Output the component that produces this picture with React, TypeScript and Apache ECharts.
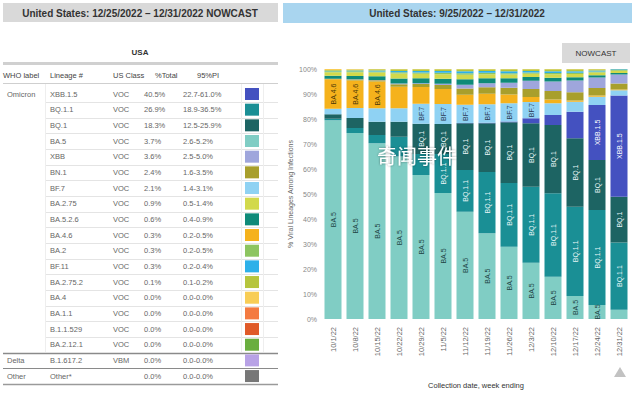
import React, { useEffect, useRef } from "react";
import * as echarts from "echarts";

// ---------- chart data (week ending) ----------
const weeks = ["10/1/22", "10/8/22", "10/15/22", "10/22/22", "10/29/22", "11/5/22", "11/12/22", "11/19/22", "11/26/22", "12/3/22", "12/10/22", "12/17/22", "12/24/22", "12/31/22"];

// stacked from bottom to top
const ba5 = [79.5, 74.4, 70.3, 65.0, 57.6, 50.4, 42.9, 34.3, 28.9, 22.5, 16.9, 9.2, 5.6, 3.7];
const bq11 = [0.6, 2.0, 3.3, 7.9, 8.4, 15.6, 16.7, 24.5, 25.5, 30.4, 33.4, 35.7, 38.0, 26.9];
const bq1 = [1.8, 4.0, 5.3, 6.0, 12.1, 12.0, 18.7, 19.5, 24.3, 25.4, 27.3, 27.4, 20.0, 18.3];
const xbb15 = [0, 0, 0, 0, 0, 0, 0.1, 0.2, 0.3, 2.0, 4.0, 10.6, 22.0, 40.5];
const bf7 = [2.2, 4.0, 5.4, 5.4, 8.0, 8.0, 7.3, 7.4, 7.3, 6.5, 4.7, 4.0, 3.3, 2.1];
const ba46 = [11.8, 11.0, 10.7, 8.6, 6.7, 6.0, 4.0, 4.2, 3.5, 2.0, 1.5, 0.5, 0.5, 0.3];
const bn1 = [0.2, 0.4, 0.5, 1.0, 1.2, 1.6, 2.5, 2.6, 2.7, 3.2, 3.4, 3.3, 3.0, 2.4];
const xbb = [0, 0.1, 0.1, 0.3, 0.3, 0.5, 1.5, 1.6, 2.0, 3.3, 3.8, 4.7, 4.2, 3.6];
const ba526 = [1.2, 1.3, 1.5, 2.0, 2.0, 2.0, 2.2, 2.0, 1.8, 1.5, 1.5, 1.3, 0.9, 0.6];
const ba275 = [1.4, 1.5, 1.5, 2.0, 1.8, 1.8, 1.8, 1.6, 1.5, 1.3, 1.4, 1.3, 1.1, 0.9];
const ba2 = [0.4, 0.4, 0.4, 0.5, 0.5, 0.6, 0.6, 0.6, 0.5, 0.5, 0.5, 0.5, 0.4, 0.3];
const bf11 = [0.2, 0.3, 0.4, 0.5, 0.6, 0.7, 0.8, 0.7, 0.8, 0.6, 0.7, 0.6, 0.4, 0.3];
const ba2752 = [0.3, 0.4, 0.5, 0.7, 0.7, 0.7, 0.8, 0.7, 0.8, 0.7, 0.8, 0.8, 0.5, 0.1];
const ba4 = [0.4, 0.2, 0.1, 0.1, 0.1, 0.1, 0.1, 0.1, 0.1, 0.1, 0.1, 0.1, 0.1, 0];
const ba11 = [0, 0, 0, 0, 0, 0, 0, 0, 0, 0, 0, 0, 0, 0];
const b11529 = [0, 0, 0, 0, 0, 0, 0, 0, 0, 0, 0, 0, 0, 0];
const ba2121 = [0, 0, 0, 0, 0, 0, 0, 0, 0, 0, 0, 0, 0, 0];
const delta = [0, 0, 0, 0, 0, 0, 0, 0, 0, 0, 0, 0, 0, 0];
const other = [0, 0, 0, 0, 0, 0, 0, 0, 0, 0, 0, 0, 0, 0];

const stackNames = ["BA.5", "BQ.1.1", "BQ.1", "XBB.1.5", "BF.7", "BA.4.6", "BN.1", "XBB", "BA.5.2.6", "BA.2.75", "BA.2", "BF.11", "BA.2.75.2", "BA.4", "BA.1.1", "B.1.1.529", "BA.2.12.1", "B.1.617.2", "Other*"];
const stackValues = [ba5, bq11, bq1, xbb15, bf7, ba46, bn1, xbb, ba526, ba275, ba2, bf11, ba2752, ba4, ba11, b11529, ba2121, delta, other];

// ---------- nowcast table data ----------
const tableWho = ["Omicron", "", "", "", "", "", "", "", "", "", "", "", "", "", "", "", "", "Delta", "Other"];
const tableLineages = ["XBB.1.5", "BQ.1.1", "BQ.1", "BA.5", "XBB", "BN.1", "BF.7", "BA.2.75", "BA.5.2.6", "BA.4.6", "BA.2", "BF.11", "BA.2.75.2", "BA.4", "BA.1.1", "B.1.1.529", "BA.2.12.1", "B.1.617.2", "Other*"];
const tableClass = ["VOC", "VOC", "VOC", "VOC", "VOC", "VOC", "VOC", "VOC", "VOC", "VOC", "VOC", "VOC", "VOC", "VOC", "VOC", "VOC", "VOC", "VBM", ""];
const tableTotal = ["40.5%", "26.9%", "18.3%", "3.7%", "3.6%", "2.4%", "2.1%", "0.9%", "0.6%", "0.3%", "0.3%", "0.3%", "0.1%", "0.0%", "0.0%", "0.0%", "0.0%", "0.0%", "0.0%"];
const tablePI = ["22.7-61.0%", "18.9-36.5%", "12.5-25.9%", "2.6-5.2%", "2.5-5.0%", "1.6-3.5%", "1.4-3.1%", "0.5-1.4%", "0.4-0.9%", "0.2-0.5%", "0.2-0.5%", "0.2-0.4%", "0.1-0.2%", "0.0-0.0%", "0.0-0.0%", "0.0-0.0%", "0.0-0.0%", "0.0-0.0%", "0.0-0.0%"];
const tableHeaders = ["WHO label", "Lineage #", "US Class", "%Total", "95%PI"];

// ---------- styles ----------
const lineageColors: Record<string, string> = {
  "XBB.1.5": "#4451c0",
  "BQ.1.1": "#1a8f95",
  "BQ.1": "#1d6463",
  "BA.5": "#80cdc4",
  "XBB": "#9fa6dc",
  "BN.1": "#a89f2c",
  "BF.7": "#8fd2f3",
  "BA.2.75": "#d2d94b",
  "BA.5.2.6": "#0f8a78",
  "BA.4.6": "#f5b21c",
  "BA.2": "#8dc560",
  "BF.11": "#2db0e9",
  "BA.2.75.2": "#b6c53d",
  "BA.4": "#f8cd55",
  "BA.1.1": "#f47a40",
  "B.1.1.529": "#e05a28",
  "BA.2.12.1": "#6aae3f",
  "B.1.617.2": "#b8a2e6",
  "Other*": "#777777",
};

const barLabels: Record<string, { min: number; color: string }> = {
  "BA.5": { min: 5, color: "#1e4545" },
  "BQ.1.1": { min: 9, color: "#e8f6f6" },
  "BQ.1": { min: 9, color: "#e8f6f6" },
  "XBB.1.5": { min: 12, color: "#ffffff" },
  "BF.7": { min: 6, color: "#2a3a55" },
  "BA.4.6": { min: 9.5, color: "#4a3808" },
};

const FONT = "Liberation Sans, Arial, sans-serif";

function buildGraphic() {
  const g: any[] = [];
  // left title
  g.push({ type: "rect", shape: { x: 3, y: 3, width: 275, height: 19 }, style: { fill: "#d9d9d9" } });
  g.push({ type: "text", x: 140, y: 13, style: { text: "United States: 12/25/2022 – 12/31/2022 NOWCAST", fill: "#333", fontSize: 10, fontWeight: "bold", fontFamily: FONT, align: "center", verticalAlign: "middle" } });
  // right title
  g.push({ type: "rect", shape: { x: 283, y: 3, width: 349, height: 20 }, style: { fill: "#a9d5ef" } });
  g.push({ type: "text", x: 457, y: 13, style: { text: "United States: 9/25/2022 – 12/31/2022", fill: "#333", fontSize: 10, fontWeight: "bold", fontFamily: FONT, align: "center", verticalAlign: "middle" } });
  // nowcast box
  g.push({ type: "rect", shape: { x: 562, y: 43, width: 68, height: 20 }, style: { fill: "#d9d9d9" } });
  g.push({ type: "text", x: 596, y: 53, style: { text: "NOWCAST", fill: "#333", fontSize: 8, fontFamily: FONT, align: "center", verticalAlign: "middle" } });

  // table
  g.push({ type: "text", x: 140, y: 52.5, style: { text: "USA", fill: "#333", fontSize: 8, fontWeight: "bold", fontFamily: FONT, align: "center", verticalAlign: "middle" } });
  g.push({ type: "rect", shape: { x: 3, y: 62, width: 275, height: 3 }, style: { fill: "#d0d0d0" } });
  const headerX = [3, 50, 113, 155, 197];
  tableHeaders.forEach((h, i) => {
    g.push({ type: "text", x: headerX[i], y: 75, style: { text: h, fill: "#444", fontSize: 7.5, fontFamily: FONT, verticalAlign: "middle" } });
  });
  g.push({ type: "line", shape: { x1: 3, y1: 83.5, x2: 278, y2: 83.5 }, style: { stroke: "#cfcfcf", lineWidth: 1 } });
  const step = 15.67;
  const rowY = (i: number) => 94 + step * i;
  const n = tableLineages.length;
  for (let i = 0; i < n; i++) {
    const y = rowY(i);
    if (tableWho[i]) g.push({ type: "text", x: 7, y, style: { text: tableWho[i], fill: "#666", fontSize: 7.5, fontFamily: FONT, verticalAlign: "middle" } });
    g.push({ type: "text", x: 50, y, style: { text: tableLineages[i], fill: "#666", fontSize: 7.5, fontFamily: FONT, verticalAlign: "middle" } });
    g.push({ type: "text", x: 113, y, style: { text: tableClass[i], fill: "#666", fontSize: 7.5, fontFamily: FONT, verticalAlign: "middle" } });
    g.push({ type: "text", x: 144, y, style: { text: tableTotal[i], fill: "#666", fontSize: 7.5, fontFamily: FONT, verticalAlign: "middle" } });
    g.push({ type: "text", x: 183, y, style: { text: tablePI[i], fill: "#666", fontSize: 7.5, fontFamily: FONT, verticalAlign: "middle" } });
    g.push({ type: "rect", shape: { x: 245, y: y - 6, width: 14, height: 12 }, style: { fill: lineageColors[tableLineages[i]] } });
    const ly = Math.round(y + step / 2) + 0.5;
    if (i < n - 3) {
      g.push({ type: "line", shape: { x1: 45, y1: ly, x2: 278, y2: ly }, style: { stroke: "#e4e4e4", lineWidth: 1 } });
    } else if (i === n - 3) {
      g.push({ type: "line", shape: { x1: 3, y1: ly, x2: 278, y2: ly }, style: { stroke: "#8a8a8a", lineWidth: 1.5 } });
    } else if (i === n - 2) {
      g.push({ type: "line", shape: { x1: 3, y1: ly, x2: 278, y2: ly }, style: { stroke: "#8a8a8a", lineWidth: 1.2 } });
    } else {
      g.push({ type: "line", shape: { x1: 3, y1: ly, x2: 278, y2: ly }, style: { stroke: "#9a9a9a", lineWidth: 1.5 } });
    }
  }
  // faint column separators
  [45, 241, 263].forEach((x) => {
    g.push({ type: "line", shape: { x1: x + 0.5, y1: 84, x2: x + 0.5, y2: 352 }, style: { stroke: "#eeeeee", lineWidth: 1 } });
  });

  // nowcast triangle marker
  g.push({ type: "polygon", shape: { points: [[614, 377], [626, 377], [620, 367]] }, style: { fill: "#c2c2c2" } });

  // watermark
  g.push({ type: "text", x: 417, y: 155, z: 100, style: { text: "奇闻事件", fill: "#ffffff", fontSize: 20, fontFamily: "Noto Sans CJK SC", align: "center", verticalAlign: "middle", textShadowColor: "rgba(0,0,0,0.45)", textShadowBlur: 2 } });
  return g;
}

export default function App() {
  const ref = useRef<HTMLDivElement>(null);
  useEffect(() => {
    if (!ref.current) return;
    const chart = echarts.init(ref.current, undefined, { renderer: "svg" });
    const series = stackNames.map((name, si) => {
      const lab = barLabels[name];
      return {
        name,
        type: "bar",
        stack: "total",
        barWidth: 17,
        data: stackValues[si],
        itemStyle: { color: lineageColors[name] },
        label: lab
          ? {
              show: true,
              position: "inside",
              rotate: 90,
              fontSize: 7,
              fontFamily: FONT,
              color: lab.color,
              formatter: (p: any) => (p.value >= lab.min ? name : ""),
            }
          : { show: false },
        emphasis: { disabled: true },
      };
    });
    chart.setOption({
      animation: false,
      backgroundColor: "#ffffff",
      textStyle: { fontFamily: FONT },
      grid: { left: 322, right: 5, top: 69, bottom: 80, containLabel: false, outerBoundsMode: "none" },
      xAxis: {
        type: "category",
        data: weeks,
        axisLine: { show: false },
        axisTick: { show: false },
        axisLabel: { rotate: 90, fontSize: 7.5, color: "#666", margin: 8, interval: 0, fontFamily: FONT },
        name: "Collection date, week ending",
        nameLocation: "middle",
        nameGap: 62,
        nameTextStyle: { fontSize: 7.5, color: "#333", fontFamily: FONT },
      },
      yAxis: {
        type: "value",
        min: 0,
        max: 100,
        interval: 10,
        axisLine: { show: false },
        axisTick: { show: false },
        splitLine: { show: false },
        axisLabel: { formatter: "{value}%", fontSize: 7, color: "#888", margin: 5, fontFamily: FONT },
        name: "% Viral Lineages Among Infections",
        nameLocation: "middle",
        nameGap: 28,
        nameTextStyle: { fontSize: 7, color: "#666", fontFamily: FONT },
      },
      series,
      graphic: buildGraphic(),
    });
    return () => chart.dispose();
  }, []);
  return <div ref={ref} style={{ position: "fixed", left: 0, top: 0, width: 635, height: 399 }} />;
}
